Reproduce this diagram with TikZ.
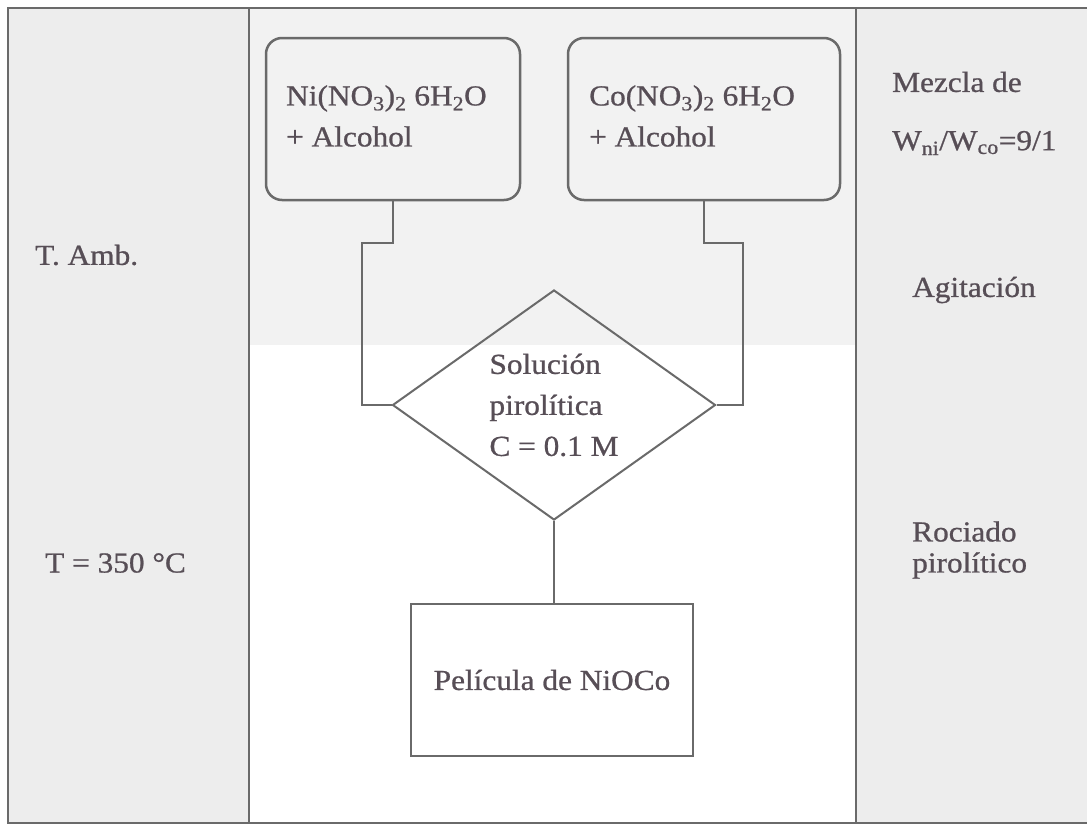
\documentclass[tikz,border=0pt]{standalone}
\usepackage{fontspec}
\setmainfont[FakeStretch=1.08,FakeBold=0.8]{Liberation Serif}
\usetikzlibrary{shapes.geometric}
\definecolor{ink}{HTML}{574E56}
\definecolor{rule}{HTML}{6A6A6A}
\definecolor{colbg}{HTML}{EDEDED}
\definecolor{colbglight}{HTML}{F2F2F2}
\begin{document}
\begin{tikzpicture}[x=1pt,y=-1pt,
  txt/.style={text=ink, font=\fontsize{29}{41}\selectfont, inner sep=0pt},
  procbox/.style={draw=rule, line width=2.5pt, rounded corners=16pt, minimum height=162pt, inner sep=0pt},
  endbox/.style={draw=rule, line width=2.5pt, minimum width=282pt, minimum height=152pt, inner sep=0pt, fill=white},
  decision/.style={draw=rule, line width=2pt, diamond, shape aspect=1.4, minimum width=323pt, minimum height=230pt, inner sep=0pt},
  link/.style={draw=rule, line width=2.5pt},
  frame/.style={draw=rule, line width=2pt}]
\useasboundingbox (0,0) rectangle (1087,830);
\fill[white] (0,0) rectangle (1087,830);

% column backgrounds
\fill[colbg] (8,8) rectangle (249,823);
\fill[colbg] (856,8) rectangle (1087,823);
\fill[colbglight] (249,8) rectangle (856,345);

% table frame
\draw[frame] (1087,8) -- (8,8) -- (8,823) -- (1087,823);
\draw[frame] (249,8) -- (249,823);
\draw[frame] (856,8) -- (856,823);

% process boxes
\node[procbox, minimum width=254pt] (nibox) at (393,119) {};
\node[procbox, minimum width=272pt] (cobox) at (704,119) {};
\node[txt, anchor=west, align=left] (nitxt) at (286,116)
  {Ni(NO\textsubscript{3})\textsubscript{2} 6H\textsubscript{2}O\\+ Alcohol};
\node[txt, anchor=west, align=left] (cotxt) at (589,116)
  {Co(NO\textsubscript{3})\textsubscript{2} 6H\textsubscript{2}O\\+ Alcohol};

\node[decision, txt, align=left] (sol) at (554,405)
  {Solución\\pirolítica\\C = 0.1 M};

\node[endbox, txt] (film) at (552,680) {Película de NiOCo};

% connectors
\coordinate (nibend) at (362,243);
\coordinate (cobend) at (743,243);
\draw[link] (nibox.south) |- (nibend) |- (sol.west);
\draw[link] (cobox.south) |- (cobend) |- (sol.east);
\draw[link] (sol.south) -- (film.north -| sol.south);

% left column labels
\node[txt, anchor=west] (tamb) at (35,255) {T. Amb.};
\node[txt, anchor=west] (thot) at (45,563) {T = 350 °C};

% right column labels
\node[txt, anchor=west] (mix) at (892,82) {Mezcla de};
\node[txt, anchor=west] (ratio) at (892,143) {W\textsubscript{ni}/W\textsubscript{co}=9/1};
\node[txt, anchor=west] (stir) at (912,290) {Agitación};
\node[txt, anchor=west, align=left, font=\fontsize{29}{31}\selectfont] (spray) at (912,550) {Rociado\\pirolítico};
\end{tikzpicture}
\end{document}
